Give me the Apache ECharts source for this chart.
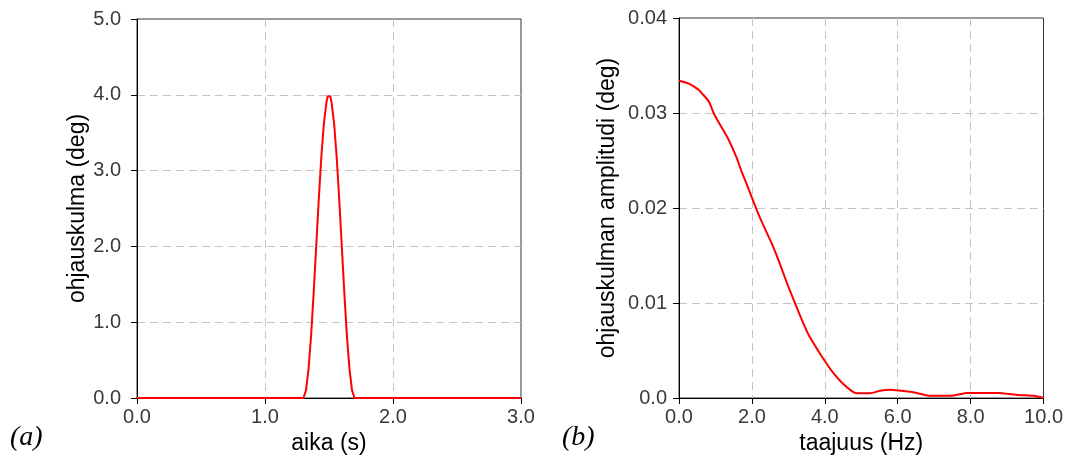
<!DOCTYPE html>
<html>
<head>
<meta charset="utf-8">
<script src="https://cdn.jsdelivr.net/npm/echarts@6/dist/echarts.min.js"></script>
<style>
  html, body { margin: 0; padding: 0; background: #ffffff; }
  #chart { width: 1066px; height: 461px; }
</style>
</head>
<body>
<div id="chart"></div>
<script>
// ---- Data ----
// Panel (a): steering angle vs time
const timeS = [0, 1.30, 1.32, 1.34, 1.36, 1.38, 1.40, 1.42, 1.44, 1.46, 1.48, 1.49, 1.50, 1.51, 1.52, 1.54, 1.56, 1.58, 1.60, 1.62, 1.64, 1.66, 1.68, 1.70, 3.0];
const angleDeg = [0, 0, 0.10, 0.38, 0.82, 1.38, 2.00, 2.62, 3.18, 3.62, 3.90, 3.98, 4.00, 3.98, 3.90, 3.62, 3.18, 2.62, 2.00, 1.38, 0.82, 0.38, 0.10, 0, 0];

// Panel (b): steering angle amplitude vs frequency
const freqHz = [0, 0.27, 0.55, 0.82, 0.95, 1.09, 1.32, 1.58, 1.72, 1.90, 2.08, 2.24, 2.54, 2.77, 2.99, 3.17, 3.35, 3.56, 3.83, 4.0, 4.2, 4.47, 4.75, 4.88, 5.25, 5.52, 5.79, 6.02, 6.4, 6.85, 7.5, 7.9, 8.75, 9.3, 9.75, 10];
const amplitudeDeg = [0.0334, 0.0331, 0.0324, 0.0312, 0.0300, 0.0290, 0.0275, 0.0253, 0.0238, 0.0221, 0.0203, 0.0188, 0.0163, 0.0141, 0.0118, 0.0101, 0.0084, 0.0066, 0.0049, 0.0039, 0.0028, 0.0016, 0.0007, 0.0005, 0.0005, 0.00077, 0.00087, 0.0008, 0.00063, 0.00024, 0.00024, 0.00053, 0.00053, 0.00032, 0.00024, 0.0];

// Texts
const panelLabels = ['(a)', '(b)'];
const xTitles = ['aika (s)', 'taajuus (Hz)'];
const yTitles = ['ohjauskulma (deg)', 'ohjauskulman amplitudi (deg)'];

// ---- Chart ----
const FONT = '"Liberation Sans", Arial, sans-serif';
const tickLabel = { color: '#3a3a3a', fontFamily: FONT, fontSize: 20 };
const nameStyle = { color: '#000', fontFamily: FONT, fontSize: 23 };
const splitLine = { show: true, showMinLine: false, showMaxLine: false, lineStyle: { color: '#c4c4c4', type: [8, 5], width: 1 } };
const axisLine = { show: true, onZero: false, lineStyle: { color: '#000', width: 1 } };
const axisTick = { show: true, inside: false, length: 6, lineStyle: { color: '#000' } };

function zip(xs, ys) { return xs.map((x, i) => [x, ys[i]]); }

const chart = echarts.init(document.getElementById('chart'), null, { renderer: 'canvas' });
chart.setOption({
  animation: false,
  backgroundColor: '#ffffff',
  grid: [
    { left: 137, top: 19, width: 384, height: 379, show: true, borderColor: '#333', borderWidth: 1, backgroundColor: 'transparent' },
    { left: 679, top: 18, width: 367, height: 380, show: true, borderColor: '#333', borderWidth: 1, backgroundColor: 'transparent' }
  ],
  xAxis: [
    {
      gridIndex: 0, type: 'value', min: 0, max: 3, interval: 1,
      name: xTitles[0], nameLocation: 'middle', nameGap: 30, nameTextStyle: nameStyle,
      axisLine, axisTick, splitLine,
      axisLabel: Object.assign({ margin: 9, formatter: v => v.toFixed(1) }, tickLabel)
    },
    {
      gridIndex: 1, type: 'value', min: 0, max: 10, interval: 2,
      name: xTitles[1], nameLocation: 'middle', nameGap: 30, nameTextStyle: nameStyle,
      axisLine, axisTick, splitLine,
      axisLabel: Object.assign({ margin: 9, formatter: v => v.toFixed(1) }, tickLabel)
    }
  ],
  yAxis: [
    {
      gridIndex: 0, type: 'value', min: 0, max: 5, interval: 1,
      name: yTitles[0], nameLocation: 'middle', nameGap: 46, nameTextStyle: nameStyle,
      axisLine, axisTick, splitLine,
      axisLabel: Object.assign({ margin: 16, formatter: v => v.toFixed(1) }, tickLabel)
    },
    {
      gridIndex: 1, type: 'value', min: 0, max: 0.04, interval: 0.01,
      name: yTitles[1], nameLocation: 'middle', nameGap: 60, nameTextStyle: nameStyle,
      axisLine, axisTick, splitLine,
      axisLabel: Object.assign({ margin: 12, formatter: v => (Math.abs(v) < 1e-9 ? '0.0' : v.toFixed(2)) }, tickLabel)
    }
  ],
  series: [
    {
      type: 'line', xAxisIndex: 0, yAxisIndex: 0, data: zip(timeS, angleDeg),
      showSymbol: false, lineStyle: { color: '#ff0000', width: 2 }, itemStyle: { color: '#ff0000' }, z: 5
    },
    {
      type: 'line', xAxisIndex: 1, yAxisIndex: 1, data: zip(freqHz, amplitudeDeg),
      showSymbol: false, smooth: 0.15, lineStyle: { color: '#ff0000', width: 2 }, itemStyle: { color: '#ff0000' }, z: 5
    }
  ],
  graphic: [
    { type: 'text', left: 10, top: 424, style: { text: panelLabels[0], font: 'italic 28px "Liberation Serif", "Times New Roman", serif', fill: '#000' } },
    { type: 'text', left: 562, top: 424, style: { text: panelLabels[1], font: 'italic 28px "Liberation Serif", "Times New Roman", serif', fill: '#000' } }
  ]
});
</script>
</body>
</html>
